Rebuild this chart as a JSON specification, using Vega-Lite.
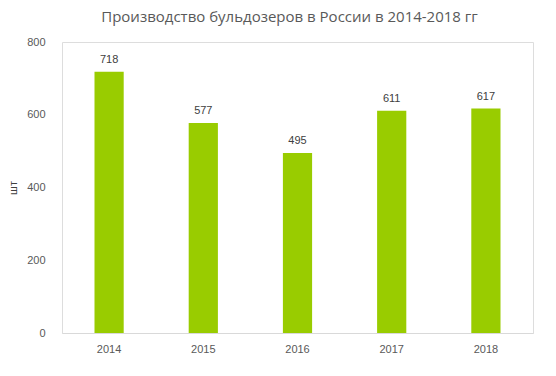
{
  "$schema": "https://vega.github.io/schema/vega-lite/v6.json",
  "autosize": "none",
  "width": 471,
  "height": 291,
  "padding": {"left": 62, "top": 42, "right": 23, "bottom": 43},
  "background": "white",
  "title": {
    "text": "Производство бульдозеров в России в  2014-2018 гг",
    "font": "Open Sans",
    "fontSize": 15,
    "fontWeight": "normal",
    "color": "#595959",
    "anchor": "middle",
    "dx": -8,
    "offset": 11
  },
  "data": {
    "values": [
      {"year": "2014", "value": 718},
      {"year": "2015", "value": 577},
      {"year": "2016", "value": 495},
      {"year": "2017", "value": 611},
      {"year": "2018", "value": 617}
    ]
  },
  "encoding": {
    "x": {
      "field": "year",
      "type": "ordinal",
      "scale": {"paddingInner": 0.69, "paddingOuter": 0.345},
      "axis": {
        "title": null,
        "labelAngle": 0,
        "labelFont": "Liberation Sans",
        "labelFontSize": 11,
        "labelColor": "#595959",
        "labelPadding": 10,
        "ticks": false,
        "domainColor": "#D9D9D9",
        "grid": false
      }
    },
    "y": {
      "field": "value",
      "type": "quantitative",
      "scale": {"domain": [0, 800]},
      "axis": {
        "title": "шт",
        "titleFont": "Liberation Sans",
        "titleFontSize": 11,
        "titleFontWeight": "normal",
        "titleColor": "#404040",
        "titlePadding": 8,
        "values": [0, 200, 400, 600, 800],
        "labelFont": "Liberation Sans",
        "labelFontSize": 11,
        "labelColor": "#595959",
        "labelPadding": 17,
        "ticks": false,
        "domain": false,
        "grid": false
      }
    }
  },
  "layer": [
    {"mark": {"type": "bar", "color": "#99CC00"}},
    {
      "mark": {
        "type": "text",
        "baseline": "bottom",
        "dy": -7,
        "font": "Liberation Sans",
        "fontSize": 11,
        "color": "#404040"
      },
      "encoding": {"text": {"field": "value", "type": "quantitative"}}
    }
  ]
}
